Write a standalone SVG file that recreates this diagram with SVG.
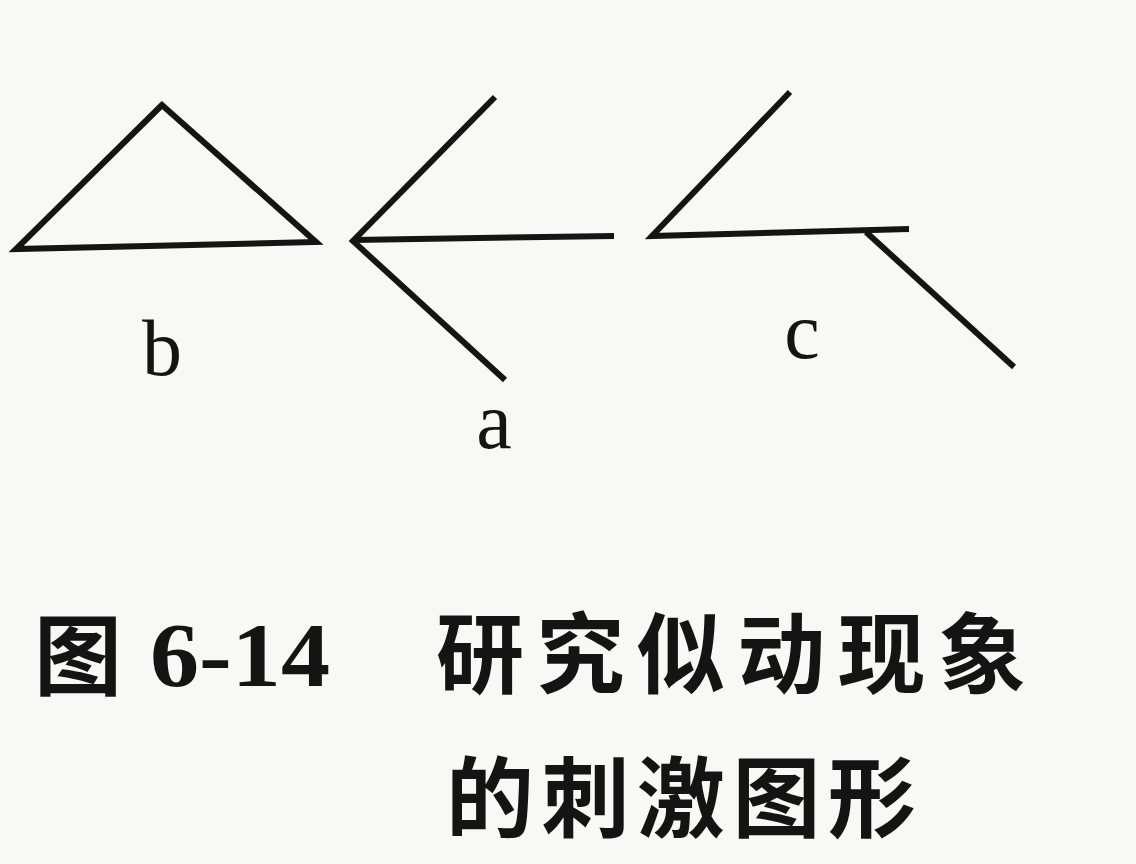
<svg xmlns="http://www.w3.org/2000/svg" width="1136" height="864" viewBox="0 0 1136 864">
<style>
.ln{fill:none;stroke:#141414;stroke-width:6;stroke-linejoin:miter;stroke-linecap:butt}
.lbl{font-family:"Liberation Serif","Times New Roman",serif;font-size:80px;fill:#141414;text-anchor:middle}
.cap{font-family:"Noto Sans CJK SC","Noto Sans CJK TC",sans-serif;font-weight:600;font-size:88px;fill:#141414}
.num{font-family:"Liberation Serif",serif;font-weight:700;font-size:92px;fill:#141414}
</style>
<rect width="1136" height="864" fill="#f8f8f6"/>
<g id="figure-b">
<polygon class="ln" points="162,105 16,249 316,242"/>
<text class="lbl" x="162" y="375">b</text>
</g>
<g id="figure-a">
<polyline class="ln" points="495,97 353,241 505,380"/>
<line class="ln" x1="353" y1="240" x2="614" y2="236"/>
<text class="lbl" x="494" y="448">a</text>
</g>
<g id="figure-c">
<polyline class="ln" points="790,92 652,236 909,229"/>
<line class="ln" x1="866" y1="232" x2="1014" y2="367"/>
<text class="lbl" x="802" y="358">c</text>
</g>
<g id="caption">
<text class="cap" x="34" y="688">图</text>
<text class="num" x="150" y="686" textLength="180" lengthAdjust="spacingAndGlyphs">6-14</text>
<text class="cap" x="436" y="686" textLength="590" lengthAdjust="spacing">研究似动现象</text>
<text class="cap" x="446" y="830" textLength="470" lengthAdjust="spacing">的刺激图形</text>
</g>
</svg>
